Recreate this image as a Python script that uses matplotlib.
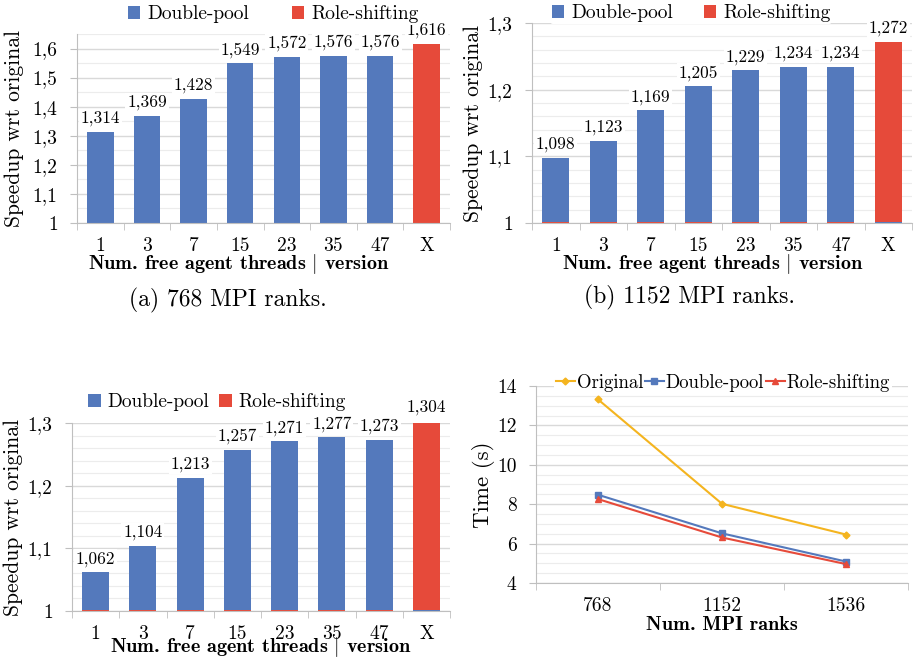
import matplotlib
matplotlib.use('Agg')
import matplotlib.pyplot as plt
from matplotlib.ticker import MultipleLocator, FixedLocator
import numpy as np

# Data
threads = ['1', '3', '7', '15', '23', '35', '47', 'X']
speedup_768 = [1.314, 1.369, 1.428, 1.549, 1.572, 1.576, 1.576, 1.616]
speedup_1152 = [1.098, 1.123, 1.169, 1.205, 1.229, 1.234, 1.234, 1.272]
speedup_1536 = [1.062, 1.104, 1.213, 1.257, 1.271, 1.277, 1.273, 1.304]

ranks = ['768', '1152', '1536']
time_original = [13.32, 8.02, 6.46]
time_double = [8.48, 6.52, 5.09]
time_role = [8.26, 6.31, 4.96]

BLUE = '#5479BC'
RED = '#E64A3A'
YELLOW = '#F4B41F'
RM = 'cmr10'
BF = 'cmb10'

plt.rcParams['font.family'] = RM
plt.rcParams['mathtext.fontset'] = 'cm'
plt.rcParams['axes.formatter.use_mathtext'] = True

W, H = 914, 661
fig = plt.figure(figsize=(W / 100, H / 100), dpi=100)

TICK_FS = 14
XLAB_FS = 14.5
YLAB_FS = 15.5


def px_axes(left, right, top, bottom):
    return fig.add_axes([left / W, 1 - bottom / H, (right - left) / W, (bottom - top) / H])


def comma(v, fmt):
    return (fmt % v).replace('.', ',')


def style_axes(ax, ymin, ymax, major, minor, fmt, ncat):
    ax.set_xlim(-0.5, ncat - 0.5)
    ax.yaxis.set_minor_locator(MultipleLocator(minor))
    ticks = np.arange(ymin, ymax + 1e-9, major)
    ax.set_yticks(ticks)
    ax.set_yticklabels([fmt(t) for t in ticks])
    ax.set_ylim(ymin, ymax)
    ax.grid(axis='y', which='major', color='#d9d9d9', lw=1.0)
    ax.grid(axis='y', which='minor', color='#ececec', lw=0.8)
    ax.set_axisbelow(True)
    for s in ['top', 'right']:
        ax.spines[s].set_visible(False)
    for s in ['left', 'bottom']:
        ax.spines[s].set_color('#bfbfbf')
    # tick marks sit between the categories
    ax.xaxis.set_minor_locator(FixedLocator(np.arange(-0.5, ncat, 1.0)))
    ax.tick_params(axis='x', which='major', length=0, labelsize=TICK_FS, pad=10)
    ax.tick_params(axis='x', which='minor', length=5, color='#bfbfbf')
    ax.tick_params(axis='y', which='major', length=5, color='#bfbfbf', labelsize=TICK_FS, pad=9)
    ax.tick_params(axis='y', which='minor', length=0)


def speedup_fmt(t):
    if abs(t - round(t)) < 1e-9:
        return '%d' % round(t)
    return comma(t, '%.1f')


def bar_panel(box, vals, ymax, minor, thin_lines, leg_xy, colspace, xlab_y, xlab_x, ylab_x):
    ax = px_axes(*box)
    x = np.arange(len(threads))
    v = np.array(vals)
    ax.bar(x[:7], v[:7] - 1, bottom=1, width=0.57, color=BLUE, label='Double-pool')
    ax.bar(x[7:], v[7:] - 1, bottom=1, width=0.57, color=RED, label='Role-shifting')
    if thin_lines:
        # the empty series shows as a thin strip at the base
        ax.bar(x[:7], 0.0015, bottom=1, width=0.57, color=RED)
        ax.bar(x[7:], 0.0015, bottom=1, width=0.57, color=BLUE)
    for xi, vi in zip(x, v):
        ax.annotate(comma(vi, '%.3f'), (xi, vi), xytext=(0, 4), textcoords='offset points',
                    ha='center', va='bottom', fontsize=12.5, annotation_clip=False,
                    bbox=dict(boxstyle='square,pad=0.1', fc='white', ec='none'))
    style_axes(ax, 1.0, ymax, 0.1, minor, speedup_fmt, len(threads))
    ax.set_xticks(x)
    ax.set_xticklabels(threads)
    ax.set_xlabel('Num. free agent threads $|$ version', fontfamily=BF, fontsize=XLAB_FS)
    ax.xaxis.set_label_coords(xlab_x, xlab_y)
    ax.set_ylabel('Speedup wrt original', fontsize=YLAB_FS)
    ax.yaxis.set_label_coords(ylab_x, 0.5)
    h, l = ax.get_legend_handles_labels()
    fig.legend(h[:2], l[:2], loc='center', bbox_to_anchor=(leg_xy[0] / W, 1 - leg_xy[1] / H),
               ncol=2, fontsize=14, frameon=True, facecolor='white', edgecolor='none',
               framealpha=1, handlelength=0.65, handleheight=0.65, handletextpad=0.35,
               columnspacing=colspace, borderpad=0.1)
    return ax


# (a) 768 ranks
bar_panel((77, 450, 34, 223), speedup_768, 1.65, 0.05, False, (273, 14), 2.2,
          -0.153, 0.434, -0.142)
fig.text(228 / W, 1 - 300 / H, '(a) 768 MPI ranks.', ha='center', va='center', fontsize=17)

# (b) 1152 ranks
bar_panel((532, 912, 23, 223), speedup_1152, 1.3, 0.02, True, (691, 13), 1.6,
          -0.145, 0.476, -0.129)
fig.text(690 / W, 1 - 297 / H, '(b) 1152 MPI ranks.', ha='center', va='center', fontsize=17)

# (c) 1536 ranks
bar_panel((72, 450, 423, 611), speedup_1536, 1.3, 0.02, True, (217, 402), 0.5,
          -0.13, 0.5, -0.13)

# (d) execution time
ax = px_axes(536, 908, 386, 583)
xr = np.arange(len(ranks))
ax.plot(xr, time_original, color=YELLOW, lw=1.5, marker='D', ms=3.5, label='Original')
ax.plot(xr, time_double, color=BLUE, lw=1.5, marker='s', ms=5, label='Double-pool')
ax.plot(xr, time_role, color=RED, lw=1.5, marker='^', ms=5, label='Role-shifting')
style_axes(ax, 4, 14, 2, 0.5, lambda t: '%d' % round(t), len(ranks))
ax.set_xticks(xr)
ax.set_xticklabels(ranks)
ax.set_xlabel('Num. MPI ranks', fontfamily=BF, fontsize=XLAB_FS)
ax.xaxis.set_label_coords(0.5, -0.168)
ax.set_ylabel('Time (s)', fontsize=YLAB_FS + 1)
ax.yaxis.set_label_coords(-0.11, 0.5)
ax.legend(loc='center', bbox_to_anchor=(723 / W, 1 - 383 / H), bbox_transform=fig.transFigure,
          ncol=3, fontsize=13.5, frameon=True, facecolor='white', edgecolor='none', framealpha=1,
          handlelength=1.0, handletextpad=0.1, columnspacing=0.1, borderpad=0.1)

fig.savefig('out.png', dpi=100)
